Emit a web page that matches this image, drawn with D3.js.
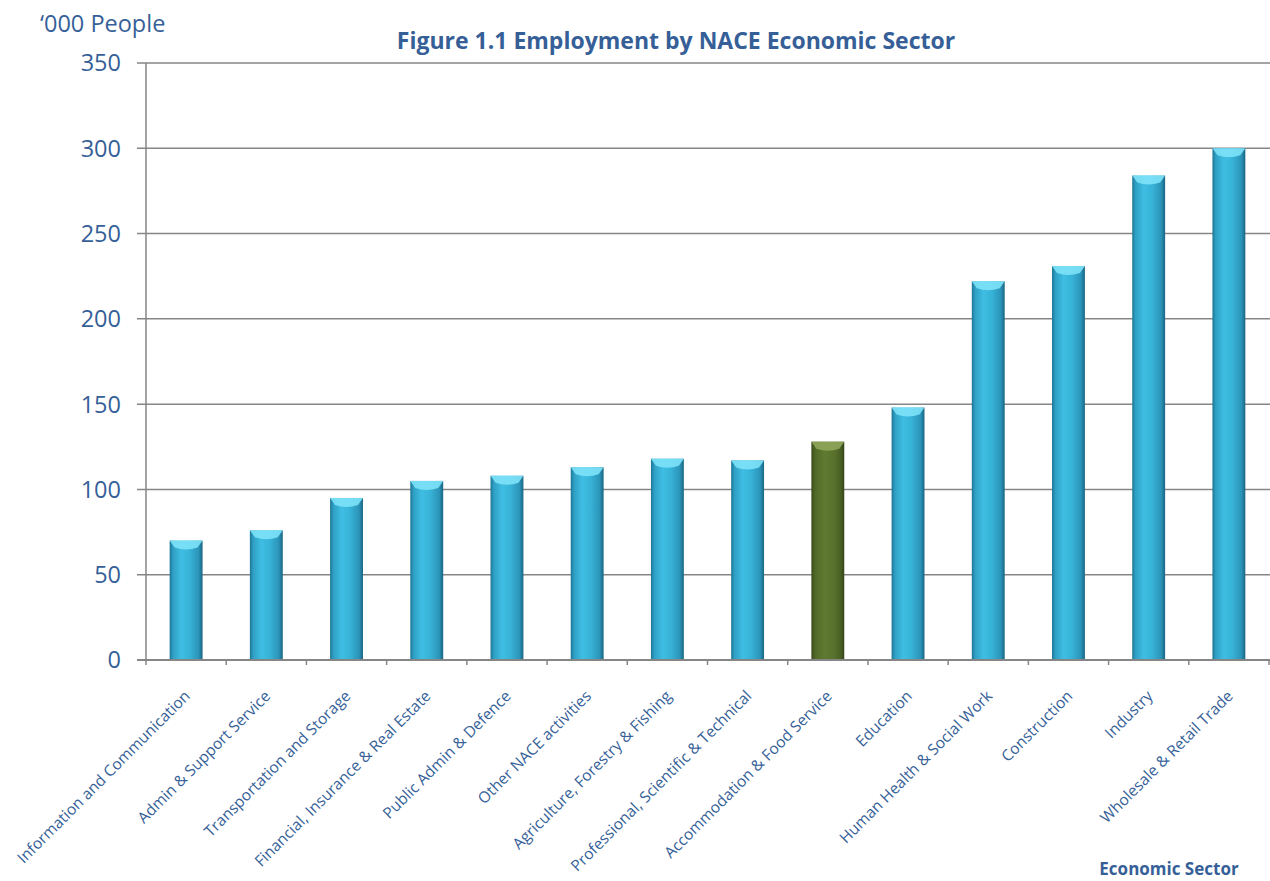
<!DOCTYPE html>
<html>
<head>
<meta charset="utf-8">
<script src="https://cdn.jsdelivr.net/npm/d3@7"></script>
<style>
  body { margin: 0; background: #fff; }
  svg { display: block; font-family: "Open Sans", "Noto Sans", sans-serif; }
</style>
</head>
<body>
<div class="containers"></div>
<script>
const sectors = [
  'Information and Communication',
  'Admin & Support Service',
  'Transportation and Storage',
  'Financial, Insurance & Real Estate',
  'Public Admin & Defence',
  'Other NACE activities',
  'Agriculture, Forestry & Fishing',
  'Professional, Scientific & Technical',
  'Accommodation & Food Service',
  'Education',
  'Human Health & Social Work',
  'Construction',
  'Industry',
  'Wholesale & Retail Trade'
]
const employment = [70, 76, 95, 105, 108, 113, 118, 117, 128, 148, 222, 231, 284, 300]
const highlighted = ['Accommodation & Food Service']
const yTicks = [0, 50, 100, 150, 200, 250, 300, 350]

const width = 1270
const height = 881
const margin = { top: 63, right: 1, bottom: 221, left: 146 }
const textColor = '#365f98'

const svg = d3
  .select('.containers')
  .append('svg')
  .attr('width', width)
  .attr('height', height)

const defs = svg.append('defs')
const addGradient = (id, stops) => {
  const grad = defs.append('linearGradient')
    .attr('id', id)
    .attr('x1', '0%').attr('x2', '100%')
    .attr('y1', '0%').attr('y2', '0%')
  stops.forEach(([o, c]) => grad.append('stop').attr('offset', o).attr('stop-color', c))
}
addGradient('blueBar', [
  ['0%', '#1c7594'], ['10%', '#2f9fc4'], ['35%', '#3fbde2'],
  ['60%', '#38b3d8'], ['88%', '#2b94b8'], ['100%', '#1a6582']
])
addGradient('greenBar', [
  ['0%', '#3a4a1c'], ['12%', '#526a28'], ['40%', '#5f7a30'],
  ['70%', '#58712d'], ['90%', '#485e24'], ['100%', '#33421a']
])

const x = d3.scaleBand()
  .domain(sectors)
  .range([margin.left, width - margin.right])
  .paddingInner(0.59)
  .paddingOuter(0.295)

const y = d3.scaleLinear()
  .domain([0, 350])
  .range([height - margin.bottom, margin.top])

// gridlines
svg.append('g')
  .selectAll('line')
  .data(yTicks)
  .join('line')
  .attr('x1', margin.left - 9)
  .attr('x2', width)
  .attr('y1', d => y(d))
  .attr('y2', d => y(d))
  .attr('stroke', '#868686')
  .attr('stroke-width', 1.5)

// bars
const bars = svg.append('g')
  .selectAll('g')
  .data(sectors.map((s, i) => ({ name: s, value: employment[i] })))
  .join('g')

bars.append('rect')
  .attr('x', d => x(d.name))
  .attr('y', d => y(d.value))
  .attr('width', x.bandwidth())
  .attr('height', d => y(0) - y(d.value))
  .attr('fill', d => highlighted.includes(d.name) ? 'url(#greenBar)' : 'url(#blueBar)')

// bevel cap on top of each bar
bars.append('path')
  .attr('d', d => {
    const x0 = x(d.name)
    const w = x.bandwidth()
    const t = y(d.value)
    return `M${x0},${t} L${x0 + w},${t} L${x0 + w - 5},${t + 7} Q${x0 + w / 2},${t + 11} ${x0 + 5},${t + 7} Z`
  })
  .attr('fill', d => highlighted.includes(d.name) ? '#8ea55a' : '#7de2f8')
  .attr('opacity', 0.9)

// axes lines
svg.append('line')
  .attr('x1', margin.left).attr('x2', margin.left)
  .attr('y1', y(350)).attr('y2', y(0))
  .attr('stroke', '#868686').attr('stroke-width', 1.5)
svg.append('line')
  .attr('x1', margin.left - 9).attr('x2', width)
  .attr('y1', y(0)).attr('y2', y(0))
  .attr('stroke', '#868686').attr('stroke-width', 2)

// x tick marks at band boundaries
const step = x.step()
svg.append('g')
  .selectAll('line')
  .data(d3.range(sectors.length + 1))
  .join('line')
  .attr('x1', i => margin.left + i * step)
  .attr('x2', i => margin.left + i * step)
  .attr('y1', y(0))
  .attr('y2', y(0) + 5)
  .attr('stroke', '#868686')
  .attr('stroke-width', 1.5)

// y tick labels
svg.append('g')
  .selectAll('text')
  .data(yTicks)
  .join('text')
  .attr('x', margin.left - 25)
  .attr('y', d => y(d))
  .attr('dy', '0.36em')
  .attr('text-anchor', 'end')
  .attr('fill', textColor)
  .attr('font-size', 23.5)
  .text(d => d)

// x category labels, rotated
svg.append('g')
  .selectAll('text')
  .data(sectors)
  .join('text')
  .attr('transform', d => `translate(${x(d) + x.bandwidth() / 2 + 5},${y(0) + 37}) rotate(-45)`)
  .attr('text-anchor', 'end')
  .attr('fill', textColor)
  .attr('font-size', 15.5)
  .text(d => d)

// titles
svg.append('text')
  .attr('x', 676)
  .attr('y', 49)
  .attr('text-anchor', 'middle')
  .attr('fill', textColor)
  .attr('font-size', 23)
  .attr('font-weight', 'bold')
  .text('Figure 1.1 Employment by NACE Economic Sector')

svg.append('text')
  .attr('x', 40)
  .attr('y', 32)
  .attr('fill', textColor)
  .attr('font-size', 23.5)
  .text('\u2018000 People')

svg.append('text')
  .attr('x', 1169)
  .attr('y', 875)
  .attr('text-anchor', 'middle')
  .attr('fill', textColor)
  .attr('font-size', 17)
  .attr('font-weight', 'bold')
  .text('Economic Sector')
</script>
</body>
</html>
